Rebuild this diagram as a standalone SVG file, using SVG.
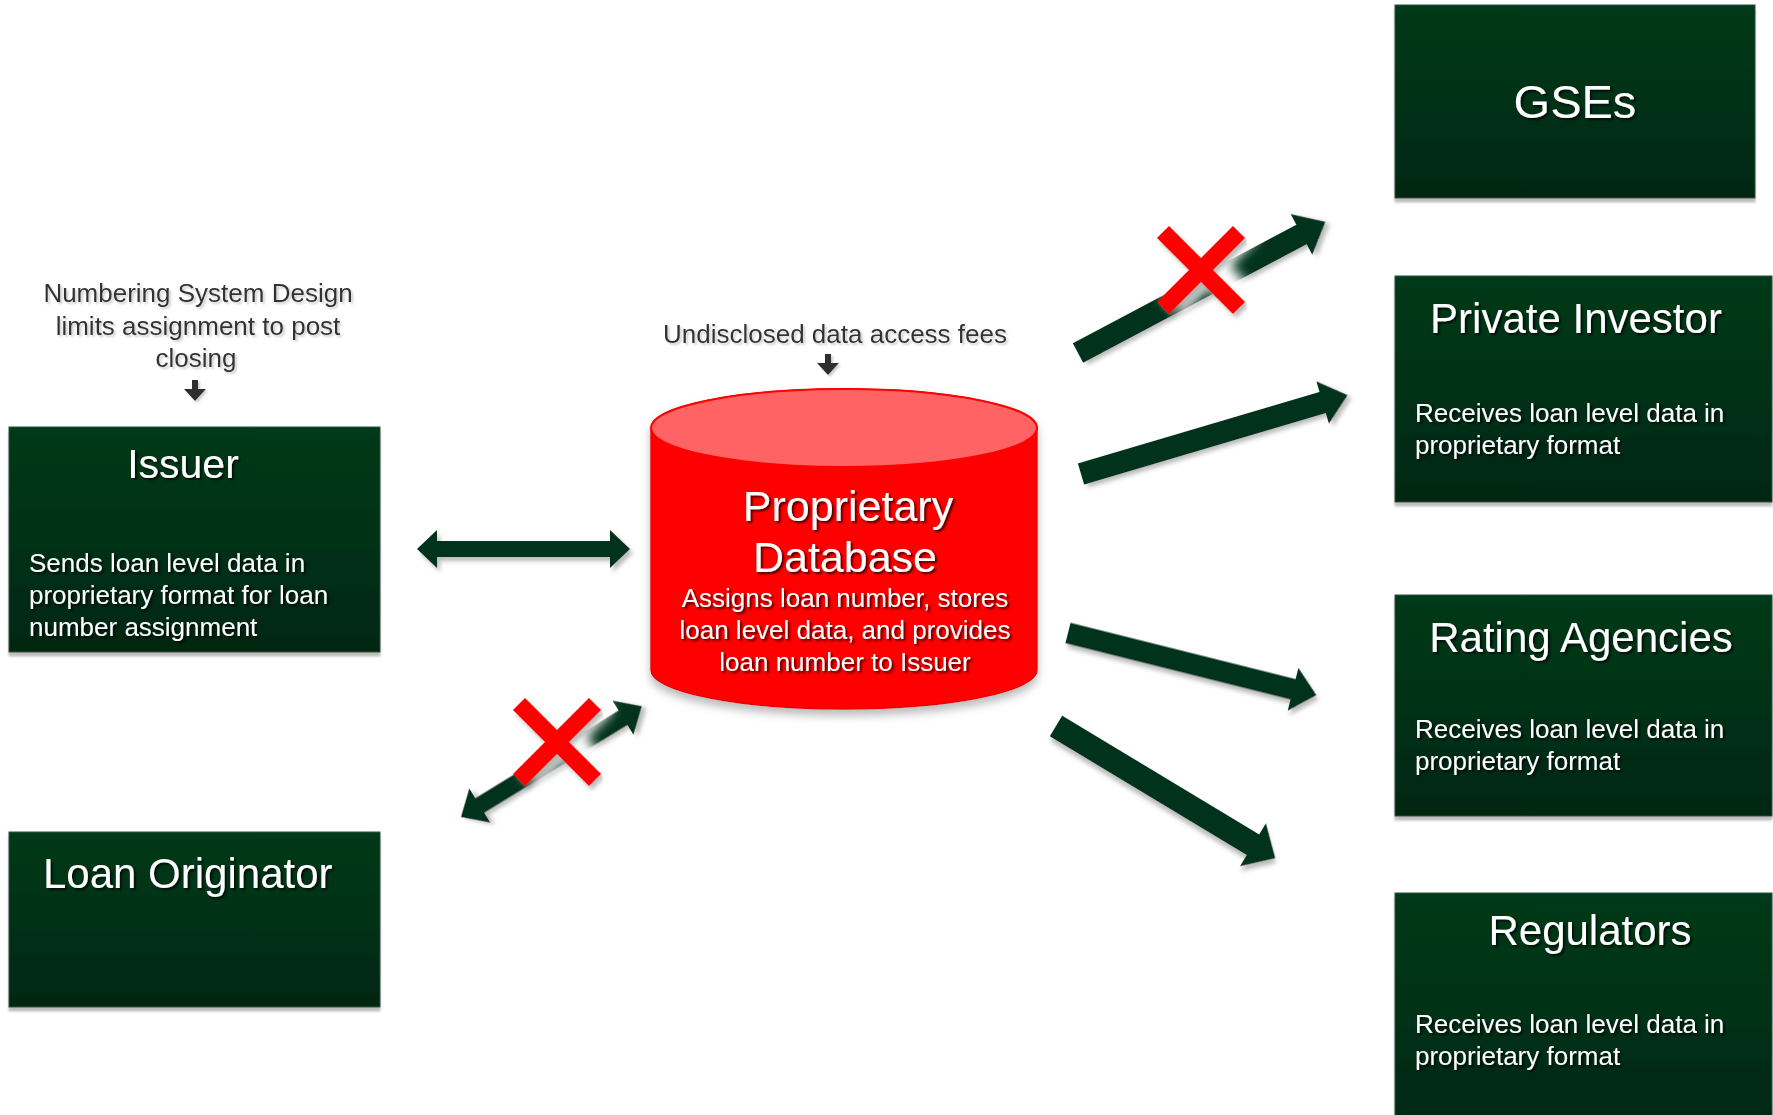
<svg xmlns="http://www.w3.org/2000/svg" width="1773" height="1115" viewBox="0 0 1773 1115">
<defs>
  <linearGradient id="boxGrad" x1="0" y1="0" x2="0" y2="1">
    <stop offset="0" stop-color="#003a1a"/>
    <stop offset="1" stop-color="#022711"/>
  </linearGradient>
  <filter id="boxShadow" x="-5%" y="-5%" width="110%" height="115%">
    <feDropShadow dx="0" dy="4" stdDeviation="1" flood-color="#888" flood-opacity="0.55"/>
  </filter>
  <filter id="arrowShadow" x="-10%" y="-30%" width="120%" height="160%">
    <feDropShadow dx="3" dy="4" stdDeviation="2" flood-color="#777" flood-opacity="0.5"/>
  </filter>
  <filter id="cylShadow" x="-10%" y="-10%" width="120%" height="125%">
    <feDropShadow dx="0" dy="6" stdDeviation="4" flood-color="#777" flood-opacity="0.5"/>
  </filter>
  <filter id="whiteTxt" x="-5%" y="-20%" width="110%" height="140%">
    <feDropShadow dx="2" dy="2" stdDeviation="1.2" flood-color="#000" flood-opacity="0.7"/>
  </filter>
  <filter id="grayTxt" x="-5%" y="-20%" width="110%" height="140%">
    <feDropShadow dx="2" dy="2" stdDeviation="1.2" flood-color="#aaa" flood-opacity="0.6"/>
  </filter>
  <filter id="glow" x="-30%" y="-30%" width="160%" height="160%">
    <feGaussianBlur stdDeviation="6"/>
  </filter>
  <style>
    .box { fill: url(#boxGrad); stroke: #2f4f3c; stroke-width: 1; filter: url(#boxShadow); }
    .title { font-family: "Liberation Sans", Arial, sans-serif; fill: #ffffff; filter: url(#whiteTxt); }
    .body { font-family: "Liberation Sans", Arial, sans-serif; font-size: 26px; fill: #ffffff; filter: url(#whiteTxt); }
    .note { font-family: "Liberation Sans", Arial, sans-serif; font-size: 26px; fill: #333333; filter: url(#grayTxt); }
    .arrow { fill: #02331a; filter: url(#arrowShadow); }
    .small { fill: #2e2e2e; filter: url(#grayTxt); }
    .xmark { stroke: #ff0000; stroke-width: 17; fill: none; }
  </style>
</defs>
<rect width="1773" height="1115" fill="#ffffff"/>

<g id="connectors">
  <!-- Issuer <-> DB -->
  <path class="arrow" transform="translate(417,549)" d="M0,0 L20,-19 V-8 H193 V-19 L213,0 L193,19 V8 H20 V19 Z"/>
  <!-- Loan Originator <-> DB (crossed) -->
  <path class="arrow" transform="translate(461,817) rotate(-31.5)" d="M0,0 L22,-20 V-8.5 H190 V-20 L212,0 L190,20 V8.5 H22 V20 Z"/>
  <!-- DB -> GSEs (crossed) -->
  <path class="arrow" transform="translate(1078,353) rotate(-27.94)" d="M0,-11 H253 V-23 L280,0 L253,23 V11 H0 Z"/>
  <!-- DB -> Private Investor -->
  <path class="arrow" transform="translate(1081,474) rotate(-16.48)" d="M0,-11 H252 V-22 L278,0 L252,22 V11 H0 Z"/>
  <!-- DB -> Rating Agencies -->
  <path class="arrow" transform="translate(1068,633) rotate(14.04)" d="M0,-10.5 H232 V-22 L256,0 L232,22 V10.5 H0 Z"/>
  <!-- DB -> Regulators -->
  <path class="arrow" transform="translate(1056,726) rotate(31.08)" d="M0,-12 H230 V-25 L256,0 L230,25 V12 H0 Z"/>

  <!-- small down arrows -->
  <path class="small" d="M192,380 H198 V389 H206 L195,401 L184,389 H192 Z"/>
  <path class="small" d="M825,354 H831 V363 H839 L828,375 L817,363 H825 Z"/>

  <!-- red X marks -->
  <g id="x-gse">
    <path d="M1163,232 L1239,308 M1239,232 L1163,308" stroke="#ffffff" stroke-width="30" filter="url(#glow)" transform="translate(8,-4)"/>
    <path class="xmark" d="M1163,232 L1239,308 M1239,232 L1163,308" filter="url(#arrowShadow)"/>
  </g>
  <g id="x-originator">
    <path d="M519,704 L595,780 M595,704 L519,780" stroke="#ffffff" stroke-width="30" filter="url(#glow)" transform="translate(8,-4)"/>
    <path class="xmark" d="M519,704 L595,780 M595,704 L519,780" filter="url(#arrowShadow)"/>
  </g>
</g>

<g id="note-numbering">
  <text class="note" text-anchor="middle" x="198" y="302">Numbering System Design</text>
  <text class="note" text-anchor="middle" x="198" y="335">limits assignment to post</text>
  <text class="note" text-anchor="middle" x="196" y="367">closing</text>
</g>
<g id="note-fees">
  <text class="note" text-anchor="middle" x="835" y="343">Undisclosed data access fees</text>
</g>

<g id="issuer">
  <rect class="box" x="9" y="427" width="371" height="225"/>
  <text class="title" font-size="41" text-anchor="middle" x="183" y="478">Issuer</text>
  <text class="body" x="29" y="572">Sends loan level data in</text>
  <text class="body" x="29" y="604">proprietary format for loan</text>
  <text class="body" x="29" y="636">number assignment</text>
</g>

<g id="loan-originator">
  <rect class="box" x="9" y="832" width="371" height="175"/>
  <text class="title" font-size="42" x="43" y="888">Loan Originator</text>
</g>

<g id="proprietary-database">
  <g filter="url(#cylShadow)">
    <path d="M651,428 V670 A193,39 0 0 0 1037,670 V428 A193,39 0 0 0 651,428 Z" fill="#ff0000" stroke="#e60000" stroke-width="1.5"/>
    <ellipse cx="844" cy="428" rx="193" ry="39" fill="#ff6464" stroke="#ff0000" stroke-width="2"/>
  </g>
  <text class="title" font-size="43" text-anchor="middle" x="848" y="521">Proprietary</text>
  <text class="title" font-size="43" text-anchor="middle" x="845" y="572">Database</text>
  <text class="body" text-anchor="middle" x="845" y="607">Assigns loan number, stores</text>
  <text class="body" text-anchor="middle" x="845" y="639">loan level data, and provides</text>
  <text class="body" text-anchor="middle" x="845" y="671">loan number to Issuer</text>
</g>

<g id="gses">
  <rect class="box" x="1395" y="5" width="360" height="193"/>
  <text class="title" font-size="47" text-anchor="middle" x="1575" y="118">GSEs</text>
</g>

<g id="private-investor">
  <rect class="box" x="1395" y="276" width="377" height="226"/>
  <text class="title" font-size="42" text-anchor="middle" x="1576" y="333">Private Investor</text>
  <text class="body" x="1415" y="422">Receives loan level data in</text>
  <text class="body" x="1415" y="454">proprietary format</text>
</g>

<g id="rating-agencies">
  <rect class="box" x="1395" y="595" width="377" height="221"/>
  <text class="title" font-size="42" text-anchor="middle" x="1581" y="652">Rating Agencies</text>
  <text class="body" x="1415" y="738">Receives loan level data in</text>
  <text class="body" x="1415" y="770">proprietary format</text>
</g>

<g id="regulators">
  <rect class="box" x="1395" y="893" width="377" height="240"/>
  <text class="title" font-size="42" text-anchor="middle" x="1590" y="945">Regulators</text>
  <text class="body" x="1415" y="1033">Receives loan level data in</text>
  <text class="body" x="1415" y="1065">proprietary format</text>
</g>
</svg>
